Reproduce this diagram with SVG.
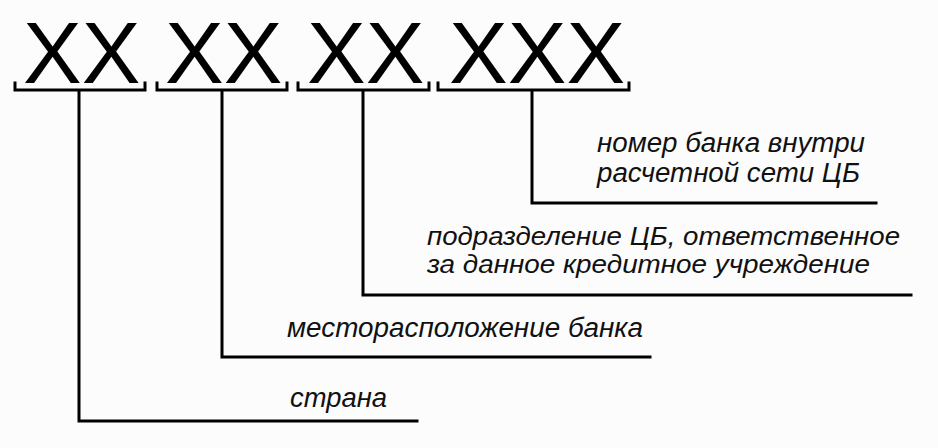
<svg xmlns="http://www.w3.org/2000/svg" width="938" height="448" viewBox="0 0 938 448">
  <style>
    .code { font-family: "Liberation Sans", Arial, sans-serif; font-size: 88px; fill: #000; }
    .lbl { font-family: "Liberation Sans", Arial, sans-serif; font-style: italic; font-size: 27px; fill: #111; }
    .lbl2 { font-size: 26px; }
    .br, .ln { fill: none; stroke: #000; stroke-width: 3; stroke-linejoin: miter; stroke-linecap: square; }
  </style>
  <rect width="938" height="448" fill="#fcfcfc"/>
  <g id="seg-country">
    <text class="code" x="23" y="83">XX</text>
    <path class="br" d="M15,83 V90 H145 V83"/>
  </g>
  <g id="seg-location">
    <text class="code" x="165" y="83">XX</text>
    <path class="br" d="M157,83 V90 H287 V83"/>
  </g>
  <g id="seg-division">
    <text class="code" x="307" y="83">XX</text>
    <path class="br" d="M298,83 V90 H429 V83"/>
  </g>
  <g id="seg-bank">
    <text class="code" x="449" y="83">XXX</text>
    <path class="br" d="M438,83 V90 H629 V83"/>
  </g>
  <g id="connectors">
    <path class="ln" d="M79,91 V421 H417"/>
    <path class="ln" d="M222,91 V357 H650"/>
    <path class="ln" d="M363,91 V295 H911"/>
    <path class="ln" d="M532,91 V203 H876"/>
  </g>
  <g id="label-bank">
    <text class="lbl" x="597" y="152" textLength="268" lengthAdjust="spacingAndGlyphs">номер банка внутри</text>
    <text class="lbl" x="597" y="182" textLength="263" lengthAdjust="spacingAndGlyphs">расчетной сети ЦБ</text>
  </g>
  <g id="label-division">
    <text class="lbl lbl2" x="427" y="245" textLength="473" lengthAdjust="spacingAndGlyphs">подразделение ЦБ, ответственное</text>
    <text class="lbl lbl2" x="427" y="273" textLength="443" lengthAdjust="spacingAndGlyphs">за данное кредитное учреждение</text>
  </g>
  <g id="label-location">
    <text class="lbl" x="287" y="337" textLength="356" lengthAdjust="spacingAndGlyphs">месторасположение банка</text>
  </g>
  <g id="label-country">
    <text class="lbl" x="290" y="407" textLength="97" lengthAdjust="spacingAndGlyphs">страна</text>
  </g>
</svg>
